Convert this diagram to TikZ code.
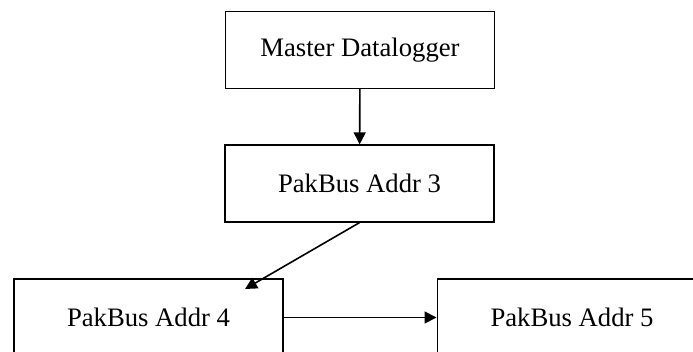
\documentclass[tikz,border=0pt]{standalone}
\usepackage{fontspec}
\setmainfont{Liberation Serif}
\usetikzlibrary{arrows.meta}
\begin{document}
\begin{tikzpicture}
        [x=0.75pt,y=-0.75pt,line width=1.2pt,
         every node/.style={rectangle,draw,line width=1.2pt,minimum width=202pt,minimum height=57.5pt,font=\fontsize{20}{24}\selectfont},
         link/.style={-{Triangle[length=9pt,width=9pt]}}]
        \useasboundingbox (0,0) rectangle (693,352);
        \clip (0,0) rectangle (693,352);
        % top
        \node  (M)  at      (360,50)			{Master Datalogger};
		\node  (A3) at      (359.5,183.5)	    {PakBus Addr 3};
		
		% bottom
		\node  (A4) at      (148.5,317.5)       {PakBus Addr 4};
		\node  (A5) at      (572,317.5)         {PakBus Addr 5};
		\coordinate (t4) at (245,289);
        
        \draw[link] (M)  -- (A3);
  		\draw[link] (A3.south) -- (t4);
  		\draw[link] (A4) -- (A5);
    \end{tikzpicture}
\end{document}
